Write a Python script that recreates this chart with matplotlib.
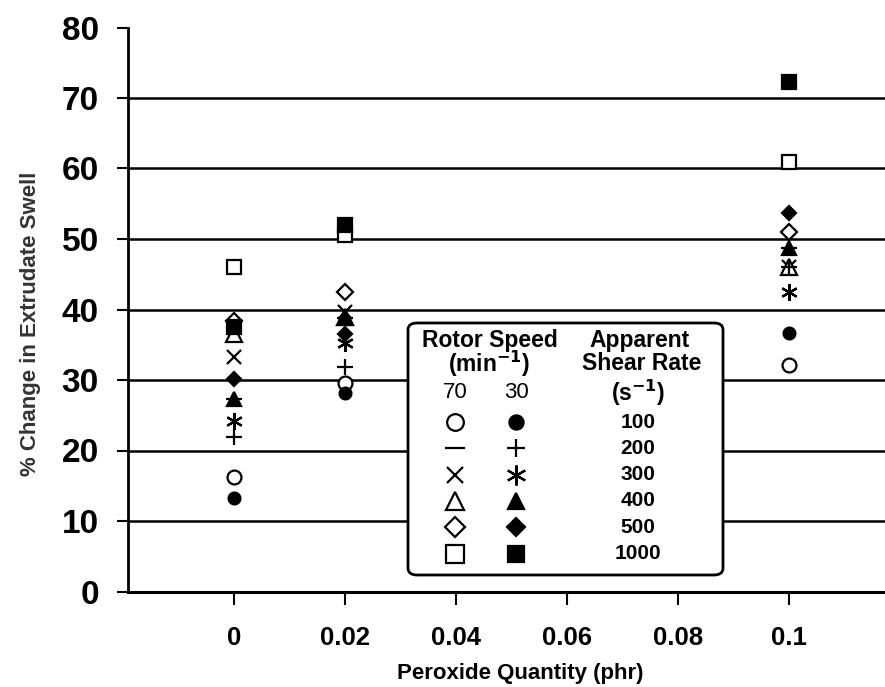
import matplotlib
matplotlib.use("Agg")
import matplotlib.pyplot as plt
from matplotlib.patches import FancyBboxPatch

plt.rcParams['font.family'] = ['Liberation Sans', 'DejaVu Sans']

# peroxide levels (phr)
x_phr = [0, 0.02, 0.1]
shear_rates = ['100', '200', '300', '400', '500', '1000']

# % change in extrudate swell, rotor speed 70 min^-1, one row per shear rate
swell_70 = [
    [16.2, 29.6, 32.1],
    [27.3, 38.8, 48.7],
    [33.3, 39.6, 46.0],
    [36.5, 39.0, 46.0],
    [38.3, 42.5, 51.0],
    [46.0, 50.6, 60.9],
]
# rotor speed 30 min^-1
swell_30 = [
    [13.3, 28.2, 36.7],
    [21.9, 31.8, 46.0],
    [24.2, 35.2, 42.5],
    [27.3, 38.8, 48.7],
    [30.2, 36.5, 53.7],
    [37.5, 52.0, 72.3],
]

yticks = [0, 10, 20, 30, 40, 50, 60, 70, 80]
xticks = [0, 0.02, 0.04, 0.06, 0.08, 0.1]
xticklabels = ['0', '0.02', '0.04', '0.06', '0.08', '0.1']

# marker styles: (marker, size, filled)
style_70 = [('o', 10, False), ('_', 12, False), ('x', 10, False),
            ('^', 11, False), ('D', 8.5, False), ('s', 10.5, False)]
style_30 = [('o', 8.5, True), ('+', 11, True), ((6, 2, 0), 12, True),
            ('^', 10, True), ('D', 7.5, True), ('s', 9.5, True)]


def mk_kwargs(st):
    m, sz, filled = st
    return dict(marker=m, markersize=sz, markeredgecolor='black',
                markerfacecolor='black' if filled else 'white',
                markeredgewidth=1.6, linestyle='none')


fig = plt.figure(figsize=(8.85, 6.87), dpi=100)
ax = fig.add_axes([128 / 885, 1 - 591.5 / 687, 757 / 885, 564 / 687])

for yv in yticks[1:-1]:
    ax.axhline(yv, color='black', lw=1.8, zorder=1)

for vals, st in zip(swell_70, style_70):
    ax.plot(x_phr, vals, zorder=3, **mk_kwargs(st))
for vals, st in zip(swell_30, style_30):
    ax.plot(x_phr, vals, zorder=4, **mk_kwargs(st))

ax.set_xlim(-0.0191, 0.1173)
ax.set_ylim(0, 80)
ax.set_yticks(yticks)
ax.set_xticks(xticks)
ax.set_xticklabels(xticklabels)
for s in ['top', 'right']:
    ax.spines[s].set_visible(False)
ax.spines['left'].set_linewidth(2)
ax.spines['bottom'].set_linewidth(2.2)
ax.tick_params(axis='y', length=8, width=1.5, pad=13, labelsize=24)
ax.tick_params(axis='x', length=9, width=1.5, pad=16, labelsize=18.5)
for lab in ax.get_xticklabels() + ax.get_yticklabels():
    lab.set_fontweight('bold')

fig.text(520 / 885, 1 - 673 / 687, 'Peroxide Quantity (phr)', ha='center',
         va='center', fontsize=16, fontweight='bold')
fig.text(31 / 885, 1 - 324 / 687, '% Change in Extrudate Swell', ha='center',
         va='center', rotation=90, fontsize=16, fontweight='bold', color='#333333')

# legend table


def ax_pt(px, py):
    return (px - 128) / 757, (591.5 - py) / 564


bx0, by1 = ax_pt(408, 323)
bx1, by0 = ax_pt(723, 575)
box = FancyBboxPatch((bx0, by0), bx1 - bx0, by1 - by0,
                     boxstyle='round,pad=0,rounding_size=0.012',
                     transform=ax.transAxes, facecolor='white',
                     edgecolor='black', lw=2, zorder=5, clip_on=False)
ax.add_patch(box)

hdr = dict(transform=ax.transAxes, ha='center', va='center', zorder=6,
           fontsize=16.5, fontweight='bold')
ax.text(*ax_pt(490, 340), 'Rotor Speed', **hdr)
ax.text(*ax_pt(489, 364), '(min$^{\\mathbf{-1}}$)', **hdr)
ax.text(*ax_pt(640, 340), 'Apparent', **hdr)
ax.text(*ax_pt(642, 364), 'Shear Rate', **hdr)
ax.text(*ax_pt(638, 393), '(s$^{\\mathbf{-1}}$)', **hdr)
ax.text(*ax_pt(455, 393), '70', transform=ax.transAxes, ha='center',
        va='center', zorder=6, fontsize=16)
ax.text(*ax_pt(516, 393), '30', transform=ax.transAxes, ha='center',
        va='center', zorder=6, fontsize=16)

row0, row_step = 422, 26.3
for i, rate in enumerate(shear_rates):
    py = row0 + i * row_step
    for px, st in ((455, style_70[i]), (516, style_30[i])):
        kw = mk_kwargs(st)
        kw['markersize'] = kw['markersize'] * 1.2
        ax.plot(*ax_pt(px, py), transform=ax.transAxes, zorder=6,
                clip_on=False, **kw)
    ax.text(*ax_pt(638, py), rate, transform=ax.transAxes, ha='center',
            va='center', zorder=6, fontsize=15, fontweight='bold')

fig.savefig('out.png', dpi=100)
